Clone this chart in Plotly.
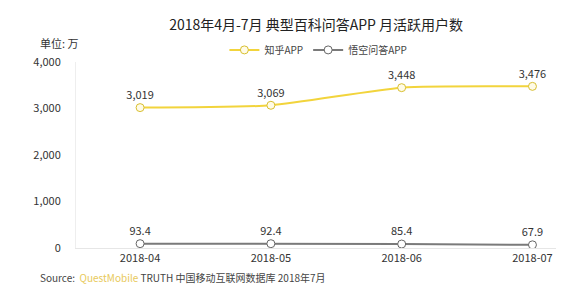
import plotly.graph_objects as go

categories = ["2018-04", "2018-05", "2018-06", "2018-07"]
zhihu = [3019, 3069, 3448, 3476]
wukong = [93.4, 92.4, 85.4, 67.9]
zhihu_labels = ["3,019", "3,069", "3,448", "3,476"]
wukong_labels = ["93.4", "92.4", "85.4", "67.9"]
y_ticks = [0, 1000, 2000, 3000, 4000]
y_ticktext = ["0", "1,000", "2,000", "3,000", "4,000"]

FONT = "Noto Sans CJK SC, Noto Sans, sans-serif"
YELLOW = "#F2D43C"
GREY = "#7a7a7a"

fig = go.Figure()
fig.add_trace(go.Scatter(
    x=list(range(len(categories))), y=zhihu, name="知乎APP",
    mode="lines+markers+text", text=zhihu_labels, textposition="top center",
    textfont=dict(size=11, color="#333333", family=FONT),
    line=dict(color=YELLOW, width=2, shape="spline", smoothing=0.6),
    marker=dict(symbol="circle", size=8, color="#fffbe6", line=dict(color="#d8bf30", width=1)),
))
fig.add_trace(go.Scatter(
    x=list(range(len(categories))), y=wukong, name="悟空问答APP",
    mode="lines+markers+text", text=wukong_labels, textposition="top center",
    textfont=dict(size=11, color="#333333", family=FONT),
    line=dict(color=GREY, width=2),
    marker=dict(symbol="circle", size=8, color="white", line=dict(color="#666666", width=1)),
))

fig.update_layout(
    width=562, height=296,
    margin=dict(l=76, r=6, t=62, b=48, autoexpand=False),
    paper_bgcolor="white", plot_bgcolor="white",
    font=dict(family=FONT, size=11, color="#333333"),
    title=dict(text="2018年4月-7月 典型百科问答APP 月活跃用户数", x=0.5625, xanchor="center",
               y=0.916, yanchor="middle", font=dict(size=14, color="#222222", family=FONT)),
    showlegend=True,
    legend=dict(orientation="h", x=0.505, xanchor="center", y=1.065, yref="paper",
                yanchor="middle", font=dict(size=10, color="#444444"),
                itemwidth=30, bgcolor="rgba(0,0,0,0)"),
    xaxis=dict(range=[-0.49, 3.18], tickvals=list(range(len(categories))), ticktext=categories,
               showgrid=False, zeroline=False, showline=True, linecolor="#e6e6e6", linewidth=1,
               ticks="", tickfont=dict(size=11, color="#333333"), fixedrange=True),
    yaxis=dict(range=[0, 4000], tickvals=y_ticks, ticktext=y_ticktext, showgrid=False,
               zeroline=False, showline=True, linecolor="#eeeeee", linewidth=1, ticks="",
               ticklabelstandoff=12, tickfont=dict(size=11, color="#333333")),
)

fig.add_annotation(text="单位: 万", xref="paper", yref="paper", x=-0.079, y=1.1,
                   xanchor="left", yanchor="middle", showarrow=False,
                   font=dict(size=11, color="#333333"))
fig.add_annotation(text="Source:  <span style='color:#E8C95A'>QuestMobile</span> TRUTH 中国移动互联网数据库 2018年7月",
                   xref="paper", yref="paper", x=-0.079, y=-0.161, xanchor="left", yanchor="middle",
                   showarrow=False, font=dict(size=10, color="#444444"))

fig.write_html("out.html")
